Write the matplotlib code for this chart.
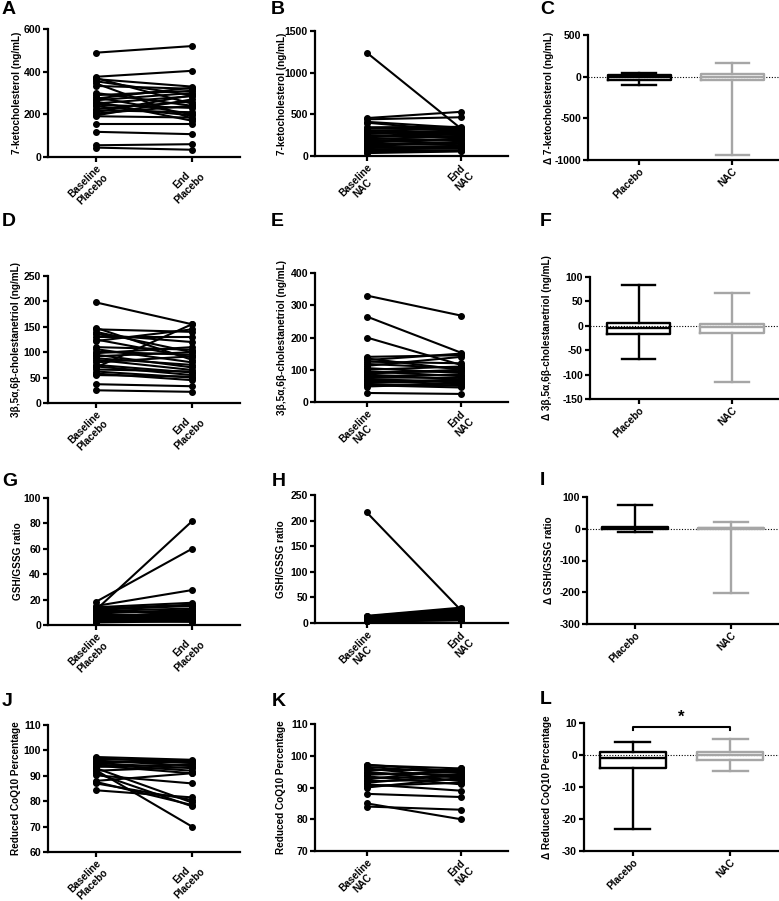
import matplotlib
matplotlib.use("Agg")
import matplotlib.pyplot as plt

plt.rcParams['font.family'] = ['Liberation Sans', 'DejaVu Sans']
plt.rcParams['font.weight'] = 'bold'
plt.rcParams['axes.labelweight'] = 'bold'
plt.rcParams['axes.unicode_minus'] = False

GREY = '#a6a6a6'

# ---- paired data (baseline -> end) ----
# A: 7-ketocholesterol, placebo
kc_pla_base = [489, 376, 370, 365, 355, 345, 333, 300, 290, 280, 274, 266, 260,
               251, 245, 238, 225, 219, 210, 204, 195, 191, 154, 118, 55, 44]
kc_pla_end = [520, 404, 250, 330, 290, 180, 320, 240, 310, 200, 325, 300, 170,
              285, 230, 195, 260, 210, 290, 240, 270, 185, 154, 107, 60, 34]
# B: 7-ketocholesterol, NAC
kc_nac_base = [1240, 455, 440, 410, 400, 345, 330, 310, 300, 290, 280, 265, 250,
               240, 225, 210, 200, 190, 175, 160, 150, 140, 125, 110, 95, 80, 70,
               60, 50, 35]
kc_nac_end = [330, 530, 465, 340, 300, 350, 320, 270, 330, 250, 300, 310, 220,
              280, 260, 190, 240, 150, 200, 210, 130, 170, 150, 100, 120, 90, 110,
              70, 60, 55]
# D: triol, placebo
tr_pla_base = [198, 148, 145, 140, 135, 130, 125, 122, 110, 106, 101, 98, 95, 92,
               88, 85, 80, 75, 72, 70, 66, 62, 58, 55, 37, 25]
tr_pla_end = [155, 85, 140, 100, 120, 130, 90, 145, 105, 80, 95, 110, 70, 100,
              75, 65, 92, 60, 55, 155, 62, 50, 45, 52, 33, 22]
# E: triol, NAC
tr_nac_base = [330, 265, 200, 140, 135, 130, 125, 118, 112, 105, 100, 95, 92, 88,
               85, 80, 76, 72, 68, 65, 60, 56, 52, 48, 28]
tr_nac_end = [268, 153, 115, 145, 100, 150, 120, 105, 140, 90, 110, 80, 95, 100,
              70, 85, 75, 60, 65, 55, 70, 50, 45, 58, 25]
# G: GSH/GSSG, placebo
gsh_pla_base = [18.3, 12, 15, 14, 13, 12, 11, 10, 9, 8, 7.5, 7, 6.5, 6, 5.5, 5,
                4.5, 4, 3.5, 3, 2.5, 2]
gsh_pla_end = [60, 81.7, 27.5, 17.5, 16, 15, 13, 10, 12, 8, 9, 6, 7, 5, 11, 4,
               6, 3, 5, 2.5, 4, 3]
# H: GSH/GSSG, NAC
gsh_nac_base = [216, 14, 13, 12, 11, 10, 9, 8, 7.5, 7, 6.5, 6, 5.5, 5, 4.5, 4,
                3.5, 3]
gsh_nac_end = [25, 30, 28, 26, 24, 22, 20, 18, 16, 14, 13, 12, 10, 9, 8, 7, 6, 5]
# J: reduced CoQ10 %, placebo
coq_pla_base = [97.4, 97, 96.5, 96, 95.5, 95, 94.5, 94, 93.5, 93, 92.2, 92, 91,
                90.2, 88, 87.6, 87, 84.3]
coq_pla_end = [96.3, 95, 96, 94, 95.5, 93, 92, 91, 94.5, 79.5, 70, 93.5, 78, 87,
               91, 78.5, 80.5, 81.5]
# K: reduced CoQ10 %, NAC
coq_nac_base = [97.2, 97, 96.5, 96, 95.5, 95, 94.5, 94, 93.5, 93, 92.5, 92, 91.5,
                91, 90.5, 90, 88, 85, 84]
coq_nac_end = [95, 96, 94.5, 93, 95.5, 92, 94, 95, 91, 93.5, 96, 92.5, 94, 89,
               91.5, 93, 87, 80, 83]

# ---- delta box stats: whislo, q1, med, q3, whishi ----
d_kc_pla = [-100, -40, -8, 20, 48]
d_kc_nac = [-940, -45, -5, 35, 168]
d_tr_pla = [-69, -16, -5, 6, 83]
d_tr_nac = [-115, -15, -3, 4, 67]
d_gsh_pla = [-10, -2, 1, 4, 76]
d_gsh_nac = [-201, -1, 1, 3, 22]
d_coq_pla = [-23, -4, -1, 1, 4]
d_coq_nac = [-5, -1.5, 0, 1, 5]

fig = plt.figure(figsize=(7.79, 9.01), dpi=100)
W, H = 779, 901


def add_ax(left, right, top, bottom, label_x):
    ax = fig.add_axes([left / W, 1 - bottom / H, (right - left) / W, (bottom - top) / H])
    for s in ['top', 'right']:
        ax.spines[s].set_visible(False)
    for s in ['left', 'bottom']:
        ax.spines[s].set_linewidth(1.6)
    ax.tick_params(width=1.6, length=3.5, labelsize=7.6, pad=1.5)
    ax.tick_params(axis='x', labelsize=7.2, pad=1)
    ax.yaxis.set_label_coords((label_x - left) / (right - left), 0.5)
    return ax


def style(ax, ylabel, yticks, xlim, xlabels):
    ax.set_ylim(yticks[0], yticks[-1])
    ax.set_yticks(yticks)
    ax.set_xlim(*xlim)
    ax.set_xticks(range(len(xlabels)))
    ax.set_xticklabels(xlabels, rotation=45, ha='right', va='top',
                       rotation_mode='anchor', multialignment='center',
                       linespacing=1.1)
    ax.set_ylabel(ylabel, fontsize=7.2, va='center')


def paired(ax, base, end):
    for b, e in zip(base, end):
        ax.plot([0, 1], [b, e], color='black', lw=1.5, marker='o', ms=4,
                clip_on=False)


def boxes(ax, pla, nac):
    for pos, st, c in [(0, pla, 'black'), (1, nac, GREY)]:
        stats = [dict(whislo=st[0], q1=st[1], med=st[2], q3=st[3], whishi=st[4],
                      fliers=[])]
        ax.bxp(stats, positions=[pos], widths=0.68, capwidths=0.36,
               showfliers=False, manage_ticks=False,
               boxprops=dict(color=c, lw=1.7), whiskerprops=dict(color=c, lw=1.7),
               capprops=dict(color=c, lw=1.7), medianprops=dict(color=c, lw=1.7))
    ax.axhline(0, color='black', lw=0.8, ls=(0, (1, 1.5)), zorder=0)


pla_labels = ['Baseline\nPlacebo', 'End\nPlacebo']
nac_labels = ['Baseline\nNAC', 'End\nNAC']
grp_labels = ['Placebo', 'NAC']

# row 1
ax = add_ax(48, 240, 29, 157, 17)
paired(ax, kc_pla_base, kc_pla_end)
style(ax, '7-ketocholesterol (ng/mL)', [0, 200, 400, 600], (-0.5, 1.5), pla_labels)
ax = add_ax(315, 508, 31, 156, 282)
paired(ax, kc_nac_base, kc_nac_end)
style(ax, '7-ketocholesterol (ng/mL)', [0, 500, 1000, 1500], (-0.55, 1.5), nac_labels)
ax = add_ax(588, 779, 35, 160, 549)
boxes(ax, d_kc_pla, d_kc_nac)
style(ax, 'Δ 7-ketocholesterol (ng/mL)', [-1000, -500, 0, 500], (-0.55, 1.5), grp_labels)

# row 2
ax = add_ax(48, 240, 276, 403, 16)
paired(ax, tr_pla_base, tr_pla_end)
style(ax, '3β,5α,6β-cholestanetriol (ng/mL)', [0, 50, 100, 150, 200, 250],
      (-0.5, 1.5), pla_labels)
ax = add_ax(315, 508, 273, 402, 282)
paired(ax, tr_nac_base, tr_nac_end)
style(ax, '3β,5α,6β-cholestanetriol (ng/mL)', [0, 100, 200, 300, 400],
      (-0.55, 1.5), nac_labels)
ax = add_ax(590, 779, 277, 399, 547)
boxes(ax, d_tr_pla, d_tr_nac)
style(ax, 'Δ 3β,5α,6β-cholestanetriol (ng/mL)', [-150, -100, -50, 0, 50, 100],
      (-0.52, 1.5), grp_labels)

# row 3
ax = add_ax(48, 240, 498, 625, 18)
paired(ax, gsh_pla_base, gsh_pla_end)
style(ax, 'GSH/GSSG ratio', [0, 20, 40, 60, 80, 100], (-0.5, 1.5), pla_labels)
ax = add_ax(315, 508, 495, 623, 281)
paired(ax, gsh_nac_base, gsh_nac_end)
style(ax, 'GSH/GSSG ratio', [0, 50, 100, 150, 200, 250], (-0.55, 1.5), nac_labels)
ax = add_ax(587, 779, 497, 624, 549)
boxes(ax, d_gsh_pla, d_gsh_nac)
style(ax, 'Δ GSH/GSSG ratio', [-300, -200, -100, 0, 100], (-0.5, 1.5), grp_labels)

# row 4
ax = add_ax(48, 240, 725, 852, 16)
paired(ax, coq_pla_base, coq_pla_end)
style(ax, 'Reduced CoQ10 Percentage', [60, 70, 80, 90, 100, 110], (-0.5, 1.5), pla_labels)
ax = add_ax(315, 508, 724, 851, 281)
paired(ax, coq_nac_base, coq_nac_end)
style(ax, 'Reduced CoQ10 Percentage', [70, 80, 90, 100, 110], (-0.55, 1.5), nac_labels)
ax = add_ax(584, 779, 723, 851, 547)
boxes(ax, d_coq_pla, d_coq_nac)
style(ax, 'Δ Reduced CoQ10 Percentage', [-30, -20, -10, 0, 10], (-0.5, 1.5), grp_labels)
ax.plot([0, 0, 1, 1], [7.9, 8.9, 8.9, 7.9], color='black', lw=1.5, clip_on=False)
ax.text(0.5, 9.6, '*', ha='center', va='bottom', fontsize=12)

# panel letters
letters = ['A', 'B', 'C', 'D', 'E', 'F', 'G', 'H', 'I', 'J', 'K', 'L']
letter_pos = [(2, 10), (271, 10), (540, 10), (2, 221), (271, 221), (540, 221),
              (2, 482), (272, 482), (540, 481), (2, 701), (272, 702), (540, 699)]
for t, (x, y) in zip(letters, letter_pos):
    fig.text(x / W, 1 - y / H, t, fontsize=14, fontweight='bold', ha='left', va='center')

fig.savefig('out.png', dpi=100)
